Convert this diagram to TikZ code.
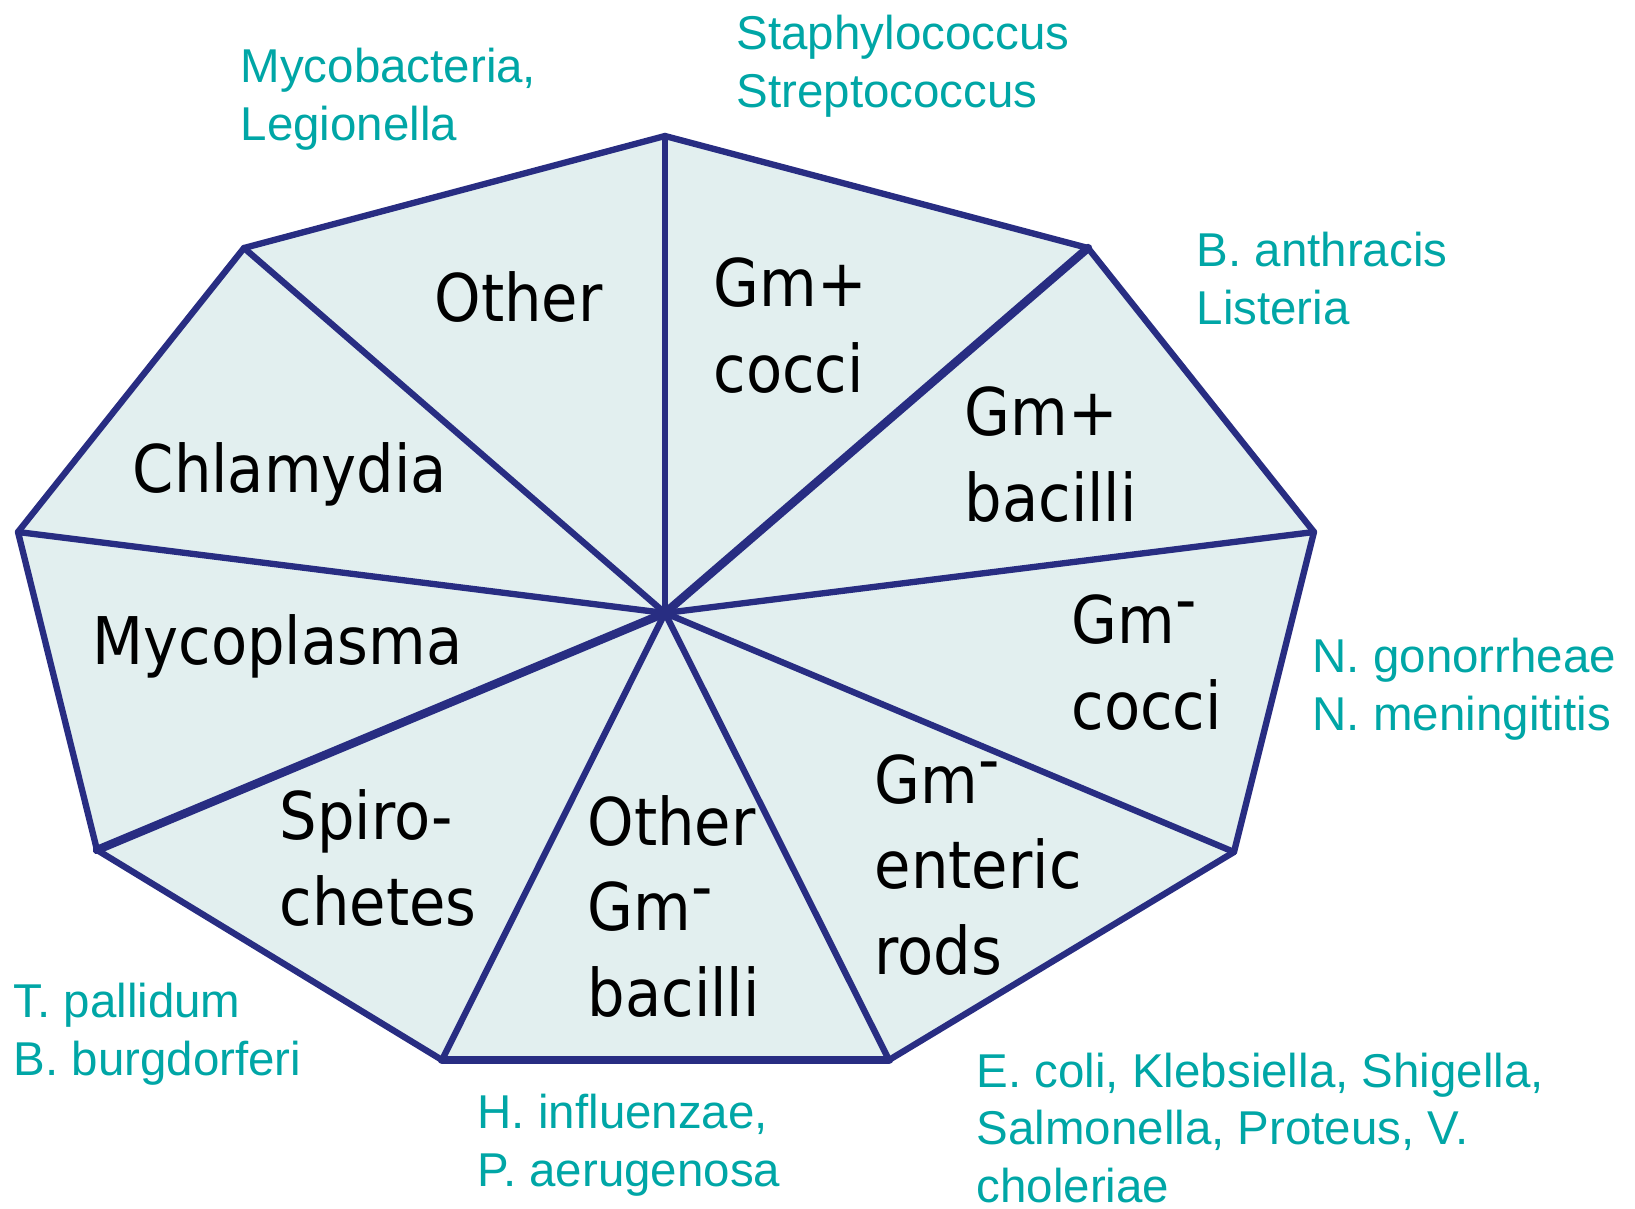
\documentclass[tikz,border=0pt]{standalone}
\usepackage{fontspec}
\setmainfont{Liberation Sans}
\newfontfamily\sectfont{DejaVu Sans Condensed}
\usetikzlibrary{positioning}

\definecolor{orgteal}{RGB}{0,166,166}
\definecolor{wheelblue}{RGB}{40,45,130}
\definecolor{wheelfill}{RGB}{226,239,239}

\newcommand{\gmneg}{Gm\raisebox{0.32em}{-}}

\begin{document}
\begin{tikzpicture}[
  x=0.01cm, y=-0.01cm,
  edge/.style={draw=wheelblue, line width=1.8pt, line cap=round, line join=round},
  thick edge/.style={edge, line width=2.4pt},
  sect/.style={anchor=base west, inner sep=0pt, align=left, font=\sectfont\fontsize{18.7}{24.3}\selectfont},
  org/.style={anchor=base west, inner sep=0pt, align=left, text=orgteal, font=\fontsize{13.5}{16.3}\selectfont},
]
\useasboundingbox (0,0) rectangle (1635,1209);

% Vertices
\coordinate (c)  at (665,613);
\coordinate (t)  at (665,136);
\coordinate (ur) at (1088,248);
\coordinate (r)  at (1314,532);
\coordinate (lr) at (1234,852);
\coordinate (br) at (889,1060);
\coordinate (bl) at (442,1060);
\coordinate (ll) at (97,850);
\coordinate (l)  at (18,532);
\coordinate (ul) at (244,248);

% Wheel
\fill[wheelfill] (t) -- (ur) -- (r) -- (lr) -- (br) -- (bl) -- (ll) -- (l) -- (ul) -- cycle;
\draw[edge] (t) -- (ur) -- (r) -- (lr) -- (br) -- (bl) -- (ll) -- (l) -- (ul) -- cycle;
\foreach \v in {t,r,lr,br,bl,l,ul}
  \draw[edge] (c) -- (\v);
\draw[thick edge] (c) -- (ur);
\draw[thick edge] (c) -- (ll);
\draw[thick edge] (bl) -- (br);

% Sectors (anchored at baseline of last line)
\node[sect] (other)    at (434,321)  {Other};
\node[sect] (gpcocci)  at (713,392)  {Gm+\\cocci};
\node[sect] (gpbac)    at (964,521)  {Gm+\\bacilli};
\node[sect] (gncocci)  at (1071,729) {\gmneg\\cocci};
\node[sect] (enteric)  at (874,974)  {\gmneg\\enteric\\rods};
\node[sect] (gnbac)    at (587,1016) {Other\\\gmneg\\bacilli};
\node[sect] (spiro)    at (279,925)  {Spiro-\\chetes};
\node[sect] (mycopl)   at (92,664)   {Mycoplasma};
\node[sect] (chlam)    at (132,492)  {Chlamydia};

% Organisms
\node[org] (mycob)   at (240,140)  {Mycobacteria,\\Legionella};
\node[org] (staph)   at (736,107)  {Staphylococcus\\Streptococcus};
\node[org] (anthr)   at (1196,324) {B. anthracis\\Listeria};
\node[org] (neiss)   at (1312,730) {N. gonorrheae\\N. meningititis};
\node[org] (ecoli)   at (976,1202) {E. coli, Klebsiella, Shigella,\\Salmonella, Proteus, V.\\choleriae};
\node[org] (haemo)   at (477,1186) {H. influenzae,\\P. aerugenosa};
\node[org] (trep)    at (13,1075)  {T. pallidum\\B. burgdorferi};

\end{tikzpicture}
\end{document}
